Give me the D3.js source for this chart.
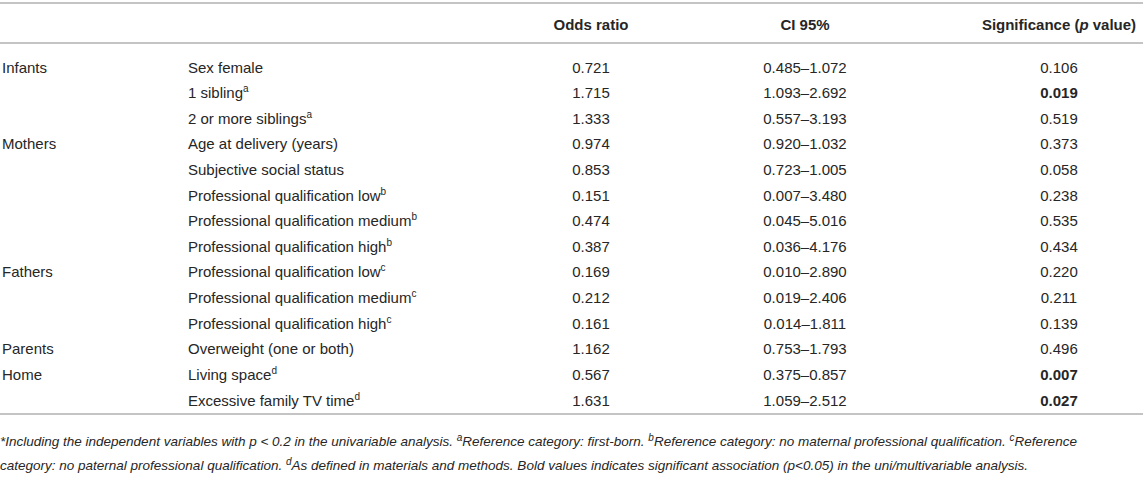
<!DOCTYPE html>
<html>
<head>
<meta charset="utf-8">
<style>
  body { margin: 0; background: #fff; }
  svg text { font-family: "Liberation Sans", Arial, Helvetica, sans-serif; fill: #262626; }
</style>
</head>
<body>
<div id="chartContainer"></div>
<script src="https://cdn.jsdelivr.net/npm/d3@7"></script>
<script>
// table content
var groups = ["Infants", "", "", "Mothers", "", "", "", "", "Fathers", "", "", "Parents", "Home", ""];
var variables = ["Sex female", "1 sibling", "2 or more siblings", "Age at delivery (years)",
  "Subjective social status", "Professional qualification low", "Professional qualification medium",
  "Professional qualification high", "Professional qualification low", "Professional qualification medium",
  "Professional qualification high", "Overweight (one or both)", "Living space", "Excessive family TV time"];
var superscripts = ["", "a", "a", "", "", "b", "b", "b", "c", "c", "c", "", "d", "d"];
var oddsRatios = ["0.721", "1.715", "1.333", "0.974", "0.853", "0.151", "0.474", "0.387", "0.169", "0.212", "0.161", "1.162", "0.567", "1.631"];
var ciLow = ["0.485", "1.093", "0.557", "0.920", "0.723", "0.007", "0.045", "0.036", "0.010", "0.019", "0.014", "0.753", "0.375", "1.059"];
var ciHigh = ["1.072", "2.692", "3.193", "1.032", "1.005", "3.480", "5.016", "4.176", "2.890", "2.406", "1.811", "1.793", "0.857", "2.512"];
var pValues = ["0.106", "0.019", "0.519", "0.373", "0.058", "0.238", "0.535", "0.434", "0.220", "0.211", "0.139", "0.496", "0.007", "0.027"];

var W = 1143, H = 481;
var svg = d3.select("#chartContainer").append("svg").attr("width", W).attr("height", H);

var rows = d3.range(variables.length);
var y = d3.scalePoint().domain(rows).range([67, 400]);

var colGroup = 2, colVar = 188, colOR = 591, colCI = 805, colP = 1059;

// rules
function rule(yy) {
  svg.append("line").attr("x1", 0).attr("x2", W).attr("y1", yy).attr("y2", yy)
    .attr("stroke", "#c4c4c4").attr("stroke-width", 2);
}
rule(3); rule(43); rule(414);

// header
var head = svg.append("g").style("font-size", "15px").style("font-weight", "bold");
head.append("text").attr("x", colOR).attr("y", 29.5).attr("text-anchor", "middle").text("Odds ratio");
head.append("text").attr("x", colCI).attr("y", 29.5).attr("text-anchor", "middle").text("CI 95%");
var sig = head.append("text").attr("x", colP).attr("y", 29.5).attr("text-anchor", "middle");
sig.append("tspan").text("Significance (");
sig.append("tspan").style("font-style", "italic").text("p");
sig.append("tspan").text(" value)");

// body rows
var body = svg.append("g").style("font-size", "15px");
var r = body.selectAll("g.row").data(rows).enter().append("g").attr("class", "row")
  .attr("transform", function (i) { return "translate(0," + (y(i) + 5.5) + ")"; });

r.append("text").attr("x", colGroup).text(function (i) { return groups[i]; });

var v = r.append("text").attr("x", colVar);
v.append("tspan").text(function (i) { return variables[i]; });
v.append("tspan").attr("dy", -6).style("font-size", "10px").text(function (i) { return superscripts[i]; });

r.append("text").attr("x", colOR).attr("text-anchor", "middle").text(function (i) { return oddsRatios[i]; });
r.append("text").attr("x", colCI).attr("text-anchor", "middle").text(function (i) { return ciLow[i] + "\u2013" + ciHigh[i]; });
r.append("text").attr("x", colP).attr("text-anchor", "middle")
  .style("font-weight", function (i) { return +pValues[i] < 0.05 ? "bold" : "normal"; })
  .text(function (i) { return pValues[i]; });

// footnote
var foot = svg.append("g").style("font-size", "13.5px").style("font-style", "italic");
function sup(t, s) {
  t.append("tspan").attr("dy", -5).style("font-size", "10px").text(s);
}
var f1 = foot.append("text").attr("x", 0).attr("y", 446);
f1.append("tspan").text("*Including the independent variables with p < 0.2 in the univariable analysis. ");
sup(f1, "a");
f1.append("tspan").attr("dy", 5).text("Reference category: first-born. ");
sup(f1, "b");
f1.append("tspan").attr("dy", 5).text("Reference category: no maternal professional qualification. ");
sup(f1, "c");
f1.append("tspan").attr("dy", 5).text("Reference");
var f2 = foot.append("text").attr("x", 0).attr("y", 470);
f2.append("tspan").text("category: no paternal professional qualification. ");
sup(f2, "d");
f2.append("tspan").attr("dy", 5).text("As defined in materials and methods. Bold values indicates significant association (p<0.05) in the uni/multivariable analysis.");
</script>
</body>
</html>
